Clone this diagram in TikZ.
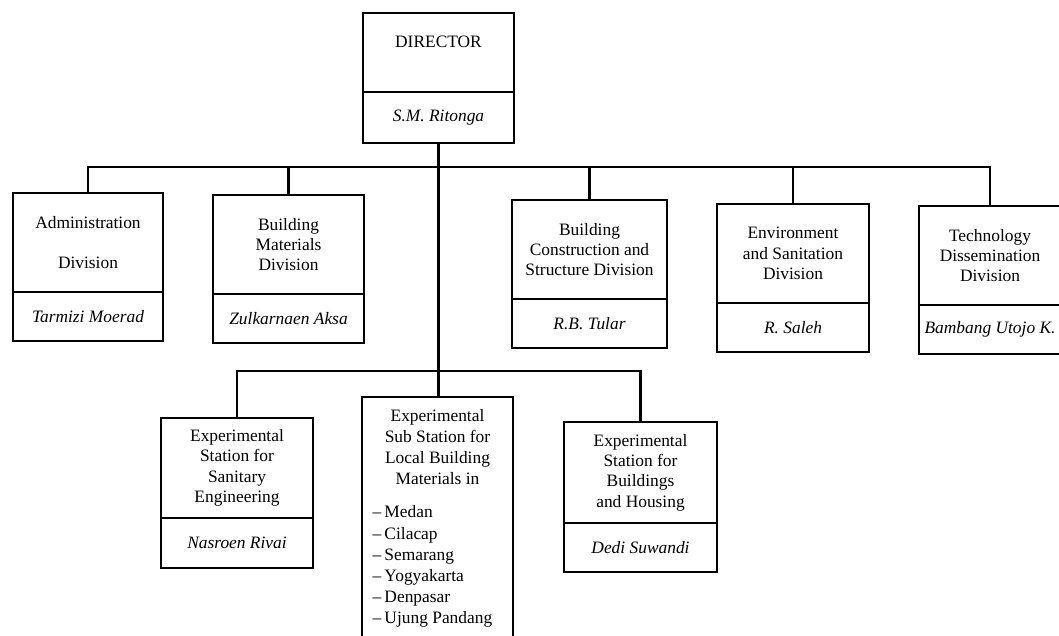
\documentclass[tikz,border=0pt]{standalone}
\usepackage{fontspec}
\setmainfont{Liberation Serif}

\tikzset{
	unit/.style={draw, line width=1.1pt, align=center, inner sep=0pt, outer sep=0pt, anchor=north west,
		font=\fontsize{8.7}{10.2}\selectfont},
	titlebox/.style={unit, minimum height=49.5pt},
	namebox/.style={unit, minimum height=24.5pt, font=\fontsize{8.7}{10.2}\selectfont\itshape},
	link/.style={line width=1.1pt},
}

\begin{document}
\begin{tikzpicture}[x=0.5pt, y=-0.5pt]
	\useasboundingbox (0, 0) rectangle (1059, 636);
	\clip (0, 0) rectangle (1059, 636);

	% head of the institute
	\node[titlebox, minimum width=75.5pt, minimum height=39.5pt, text depth=11pt] (dirTop) at (363, 13) {DIRECTOR};
	\node[namebox, minimum width=75.5pt, minimum height=25.5pt] (dirName) at (dirTop.south west) {S.M. Ritonga};

	% divisions
	\foreach \nm/\x/\y/\w/\t/\p in {
		adm/13/193/75/{Administration\\[10pt]Division}/{Tarmizi Moerad},
		bm/213/195/75.5/{Building\\Materials\\Division}/{Zulkarnaen Aksa},
		bc/512/200/77.5/{Building\\Construction and\\Structure Division}/{R.B. Tular},
		env/717/204/76/{Environment\\and Sanitation\\Division}/{R. Saleh},
		tec/919/206/71/{Technology\\Dissemination\\Division}/{Bambang Utojo K.}}{
		\node[titlebox, minimum width=\w pt] (\nm Top) at (\x, \y) {\t};
		\node[namebox, minimum width=\w pt] (\nm Name) at (\nm Top.south west) {\p};
	}

	% stations
	\node[titlebox, minimum width=76pt, minimum height=50pt] (sanTop) at (161, 418) {Experimental\\Station for\\Sanitary\\Engineering};
	\node[namebox, minimum width=76pt, minimum height=25pt] (sanName) at (sanTop.south west) {Nasroen Rivai};

	\node[titlebox, minimum width=76.5pt, minimum height=50.5pt] (houTop) at (564, 422) {Experimental\\Station for\\Buildings\\and Housing};
	\node[namebox, minimum width=76.5pt] (houName) at (houTop.south west) {Dedi Suwandi};

	\node[unit, inner xsep=3.25pt, inner ysep=6pt] (subTop) at (362, 397) {%
		\begin{minipage}[t][118pt][t]{69pt}
		\fontsize{8.7}{10.6}\selectfont
		\centering Experimental\\Sub Station for\\Local Building\\Materials in\par
		\vspace{6pt}\raggedright
		\makebox[8pt][l]{\hspace{2pt}--}Medan\\
		\makebox[8pt][l]{\hspace{2pt}--}Cilacap\\
		\makebox[8pt][l]{\hspace{2pt}--}Semarang\\
		\makebox[8pt][l]{\hspace{2pt}--}Yogyakarta\\
		\makebox[8pt][l]{\hspace{2pt}--}Denpasar\\
		\makebox[8pt][l]{\hspace{2pt}--}Ujung Pandang
		\end{minipage}};

	% connecting lines
	\coordinate (busA) at (438, 167);
	\coordinate (busB) at (438, 371);
	\draw[link] (dirName.south) -- (dirName.south |- subTop.north);
	\draw[link] (admTop.north) |- (busA) -| (tecTop.north);
	\foreach \nm in {bm, bc, env}{
		\draw[link] (\nm Top.north) -- (\nm Top.north |- busA);
	}
	\draw[link] (sanTop.north) |- (busB) -| (houTop.north);

\end{tikzpicture}
\end{document}
